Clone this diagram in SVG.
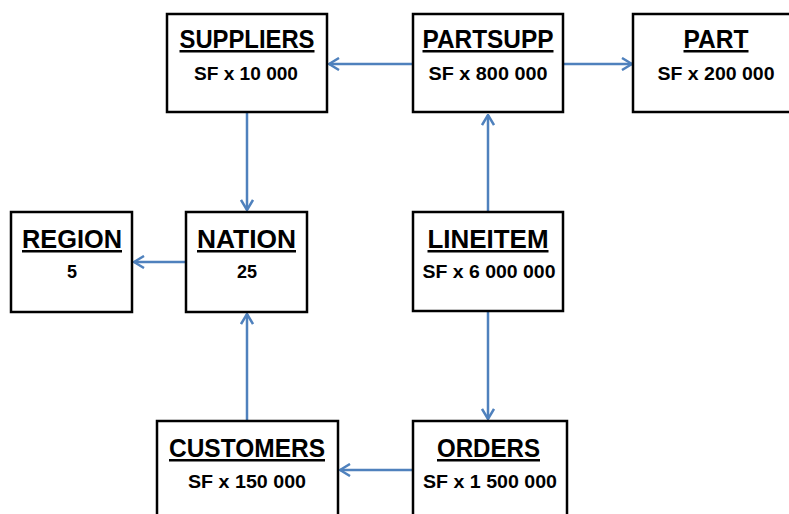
<svg xmlns="http://www.w3.org/2000/svg" width="789" height="514" viewBox="0 0 789 514">
  <style>
    .box { fill: #ffffff; stroke: #000000; stroke-width: 2.5; }
    .title { font-family: "Liberation Sans", Arial, sans-serif; font-weight: bold; font-size: 25px; text-anchor: middle; fill: #000; text-decoration: underline; }
    .sub { font-family: "Liberation Sans", Arial, sans-serif; font-weight: bold; font-size: 18px; text-anchor: middle; fill: #000; }
    .edge { stroke: #4F81BD; stroke-width: 2.5; fill: none; marker-end: url(#arrow); }
  </style>
  <defs>
    <marker id="arrow" viewBox="0 0 12 14" refX="11" refY="7" markerWidth="12" markerHeight="14" markerUnits="userSpaceOnUse" orient="auto">
      <path d="M1,1 L11,7 L1,13" fill="none" stroke="#4F81BD" stroke-width="2.5"/>
    </marker>
  </defs>
  <rect width="789" height="514" fill="#ffffff"/>

  <g id="connectors">
    <line class="edge" x1="413" y1="64" x2="329" y2="64"/>
    <line class="edge" x1="563" y1="64" x2="632" y2="64"/>
    <line class="edge" x1="247" y1="113" x2="247" y2="210"/>
    <line class="edge" x1="186" y1="262" x2="134" y2="262"/>
    <line class="edge" x1="488" y1="212" x2="488" y2="115"/>
    <line class="edge" x1="488" y1="312" x2="488" y2="419"/>
    <line class="edge" x1="247" y1="421" x2="247" y2="314"/>
    <line class="edge" x1="413" y1="470" x2="340" y2="470"/>
  </g>

  <g id="suppliers">
    <rect class="box" x="167" y="14" width="160" height="98"/>
    <text class="title" x="247" y="48" textLength="135" lengthAdjust="spacingAndGlyphs">SUPPLIERS</text>
    <text class="sub" x="246" y="80" textLength="104" lengthAdjust="spacingAndGlyphs">SF x 10 000</text>
  </g>
  <g id="partsupp">
    <rect class="box" x="413" y="14" width="150" height="98"/>
    <text class="title" x="488" y="48" textLength="131" lengthAdjust="spacingAndGlyphs">PARTSUPP</text>
    <text class="sub" x="488" y="80" textLength="119" lengthAdjust="spacingAndGlyphs">SF x 800 000</text>
  </g>
  <g id="part">
    <rect class="box" x="633" y="14" width="170" height="98"/>
    <text class="title" x="716" y="48" textLength="65" lengthAdjust="spacingAndGlyphs">PART</text>
    <text class="sub" x="716" y="80" textLength="117" lengthAdjust="spacingAndGlyphs">SF x 200 000</text>
  </g>
  <g id="region">
    <rect class="box" x="11" y="212" width="121" height="100"/>
    <text class="title" x="72" y="248" textLength="100" lengthAdjust="spacingAndGlyphs">REGION</text>
    <text class="sub" x="72" y="278">5</text>
  </g>
  <g id="nation">
    <rect class="box" x="186" y="212" width="121" height="100"/>
    <text class="title" x="246.5" y="248" textLength="99" lengthAdjust="spacingAndGlyphs">NATION</text>
    <text class="sub" x="247" y="278">25</text>
  </g>
  <g id="lineitem">
    <rect class="box" x="413" y="212" width="150" height="99"/>
    <text class="title" x="488" y="248" textLength="121" lengthAdjust="spacingAndGlyphs">LINEITEM</text>
    <text class="sub" x="489" y="278" textLength="133" lengthAdjust="spacingAndGlyphs">SF x 6 000 000</text>
  </g>
  <g id="customers">
    <rect class="box" x="157" y="421" width="181" height="110"/>
    <text class="title" x="247" y="457" textLength="156" lengthAdjust="spacingAndGlyphs">CUSTOMERS</text>
    <text class="sub" x="247" y="488" textLength="118" lengthAdjust="spacingAndGlyphs">SF x 150 000</text>
  </g>
  <g id="orders">
    <rect class="box" x="413" y="421" width="154" height="110"/>
    <text class="title" x="488.5" y="457" textLength="103" lengthAdjust="spacingAndGlyphs">ORDERS</text>
    <text class="sub" x="490" y="488" textLength="134" lengthAdjust="spacingAndGlyphs">SF x 1 500 000</text>
  </g>
</svg>
